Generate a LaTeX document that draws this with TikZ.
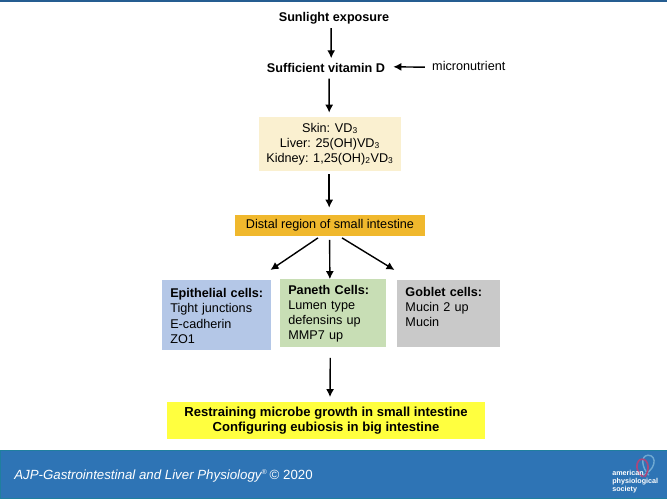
\documentclass[tikz,border=0pt]{standalone}
\usepackage{fontspec}
\setmainfont{Liberation Sans}
\usetikzlibrary{arrows.meta,calc}
\definecolor{BarBlue}{HTML}{2E74B5}
\definecolor{BarEdge}{HTML}{1F7F9F}
\definecolor{SoftCream}{HTML}{FAF0D0}
\definecolor{SoftGold}{HTML}{F0B82D}
\definecolor{SoftBlue}{HTML}{B4C7E7}
\definecolor{SoftGreen}{HTML}{C8DEB5}
\definecolor{SoftGrey}{HTML}{C9C9C9}
\definecolor{LoudYellow}{HTML}{FFFF3F}
\definecolor{LoopPink}{HTML}{A8487C}
\definecolor{LoopBlue}{HTML}{6FA9D2}
\newcommand{\panelhead}[1]{\rule{0pt}{7.5pt}\textbf{#1}}
\tikzset{
  plain/.style={font=\fontsize{9}{10.7}\selectfont, inner sep=0pt},
  heading/.style={plain, font=\fontsize{9}{10.7}\selectfont\bfseries},
  panel/.style={plain, align=left, anchor=north west, inner xsep=0.2cm},
  flow/.style={-{Latex[length=2mm,width=2mm]}, black, line width=1pt},
}
\begin{document}
\begin{tikzpicture}
  \useasboundingbox (0,0) rectangle (16.675,12.5);
  % header and footer bars
  \fill[BarBlue!80!black] (0,12.45) rectangle (16.675,12.5);
  \node[draw=BarEdge, fill=BarBlue, line width=0.5pt, minimum width=16.675cm, minimum height=1.2cm, inner sep=0pt] (footer) at (8.3375,0.65) {};
  \node[plain, anchor=west, text=white, font=\fontsize{9.45}{11}\selectfont\itshape] (journal) at (0.35,0.6) {AJP-Gastrointestinal and Liver Physiology\textsuperscript{\tiny\textregistered}\,\upshape\textcopyright{} 2020};
  % society mark
  \draw[LoopBlue, line width=1pt] (16.0,0.6) .. controls (16.4,0.7) and (16.45,1.12) .. (16.2,1.12) .. controls (16.0,1.1) and (16.05,0.8) .. (16.22,0.62);
  \draw[LoopPink, line width=1.2pt] (16.08,0.58) .. controls (15.85,0.72) and (15.9,1.02) .. (16.05,1.02) .. controls (16.22,1.02) and (16.25,0.75) .. (16.12,0.58);
  \node[plain, anchor=south west, align=left, text=white, font=\fontsize{5.1}{5.5}\selectfont\bfseries] (society) at (15.3,0.17) {american\\physiological\\society};

  \node[heading] (sun) at (8.35,12.05) {Sunlight exposure};
  \node[heading] (vit) at (8.15,10.8) {Sufficient vitamin D};
  \node[plain] (micro) at (11.72,10.85) {micronutrient};
  \node[plain, fill=SoftCream, align=center, minimum width=3.55cm, minimum height=1.35cm] (organs) at (8.25,8.9) {Skin: VD\textsubscript{3}\\Liver: 25(OH)VD\textsubscript{3}\\Kidney: 1,25(OH)\textsubscript{2}VD\textsubscript{3}};
  \node[plain, fill=SoftGold, minimum width=4.75cm, minimum height=0.52cm] (distal) at (8.25,6.87) {Distal region of small intestine};

  % three cell panels
  \node[panel, fill=SoftBlue, text width=2.33cm, minimum height=1.75cm] (epi) at (4.05,5.5) {\panelhead{Epithelial cells:}\\Tight junctions\\E-cadherin\\ZO1};
  \node[panel, fill=SoftGreen, text width=2.25cm, minimum height=1.7cm] (paneth) at (7,5.52) {\panelhead{Paneth Cells:}\\Lumen type\\defensins up\\MMP7 up};
  \node[panel, fill=SoftGrey, text width=2.17cm, minimum height=1.68cm] (goblet) at (9.93,5.5) {\panelhead{Goblet cells:}\\Mucin 2 up\\Mucin\\~};

  \node[heading, font=\fontsize{9.3}{10.7}\selectfont\bfseries, fill=LoudYellow, align=center, minimum width=7.95cm, minimum height=0.93cm] (outcome) at (8.15,1.98) {Restraining microbe growth in small intestine\\Configuring eubiosis in big intestine};

  \draw[flow] ($(sun.south)+(-0.07,-0.1)$) -- ($(vit.north)+(0.13,0.12)$);
  \draw[flow] ($(vit.south)+(0.08,-0.14)$) -- ($(organs.north)+(-0.02,0.1)$);
  \draw[flow] ($(micro.west)+(-0.18,-0.03)$) -- ($(vit.east)+(0.2,0.03)$);
  \draw[flow] ($(organs.south)+(-0.02,-0.08)$) -- ($(distal.north)+(-0.02,0.17)$);
  \draw[flow] ($(distal.south)+(-0.3,-0.05)$) -- ($(epi.north)+(1.34,0.25)$);
  \draw[flow] ($(distal.south)+(-0.01,-0.1)$) -- ($(paneth.north)+(-0.085,0)$);
  \draw[flow] ($(distal.south)+(0.3,-0.05)$) -- ($(goblet.north)+(-1.36,0.25)$);
  \draw[flow] ($(paneth.south)+(-0.075,-0.25)$) -- ($(outcome.north)+(0.1,0.12)$);
\end{tikzpicture}
\end{document}
